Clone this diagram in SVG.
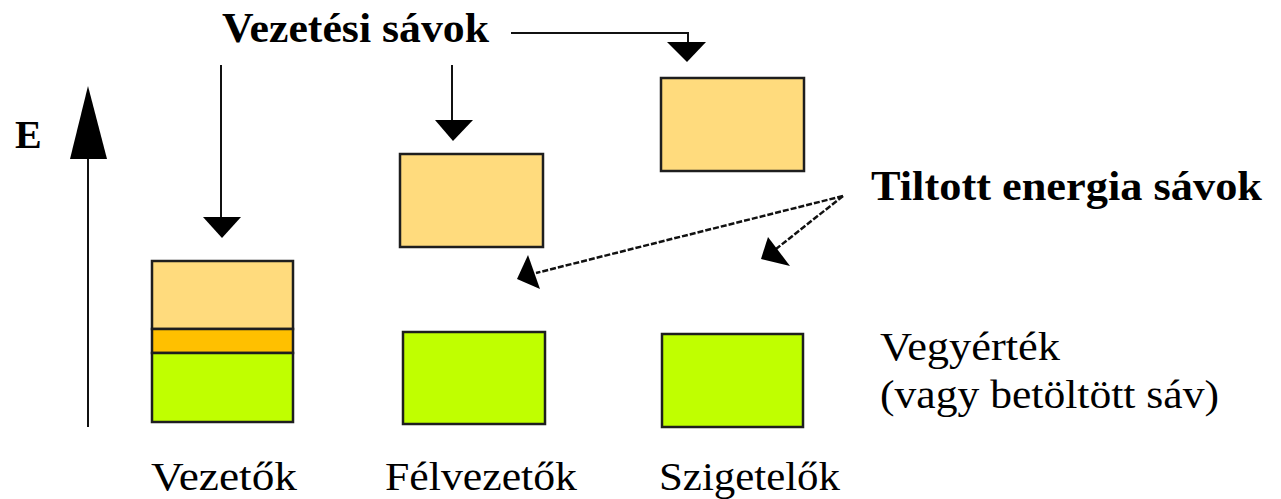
<svg xmlns="http://www.w3.org/2000/svg" width="1281" height="499" viewBox="0 0 1281 499">
<style>
.bx{stroke:#1e1e1e;stroke-width:2.5}
.cb{fill:#FFDB7D}
.ob{fill:#FFC000}
.vb{fill:#C0FF00}
.ln{stroke:#111;stroke-width:2;fill:none}
.ds{stroke:#111;stroke-width:2.5;fill:none;stroke-dasharray:6 2}
.hd{fill:#000}
.b{font-weight:bold;fill:#000}
.n{fill:#000}
</style>
<rect width="1281" height="499" fill="#fff"/>
<g id="axis">
<line class="ln" x1="88" y1="159" x2="88" y2="427"/>
<polygon class="hd" points="88,86 70,159 107,159"/>
<text class="b" font-family="'Liberation Serif', 'DejaVu Serif', serif" x="15" y="148" font-size="40">E</text>
</g>
<g id="conductor">
<rect class="bx cb" x="152" y="261" width="141" height="68"/>
<rect class="bx ob" x="152" y="329" width="141" height="24"/>
<rect class="bx vb" x="152" y="353" width="141" height="69"/>
<text class="n" font-family="'Liberation Serif', 'DejaVu Serif', serif" x="151" y="490" font-size="40" textLength="146" lengthAdjust="spacingAndGlyphs">Vezetők</text>
</g>
<g id="semiconductor">
<rect class="bx cb" x="400" y="154" width="143" height="93"/>
<rect class="bx vb" x="403" y="332" width="142" height="92"/>
<text class="n" font-family="'Liberation Serif', 'DejaVu Serif', serif" x="385" y="490" font-size="40" textLength="192" lengthAdjust="spacingAndGlyphs">Félvezetők</text>
</g>
<g id="insulator">
<rect class="bx cb" x="661" y="78" width="143" height="93"/>
<rect class="bx vb" x="662" y="334" width="141" height="93"/>
<text class="n" font-family="'Liberation Serif', 'DejaVu Serif', serif" x="659" y="490" font-size="40" textLength="181" lengthAdjust="spacingAndGlyphs">Szigetelők</text>
</g>
<g id="label-conduction">
<text class="b" font-family="'Liberation Serif', 'DejaVu Serif', serif" x="222" y="42" font-size="43" textLength="267" lengthAdjust="spacingAndGlyphs">Vezetési sávok</text>
</g>
<g id="label-forbidden">
<text class="b" font-family="'Liberation Serif', 'DejaVu Serif', serif" x="871" y="200" font-size="42" textLength="391" lengthAdjust="spacingAndGlyphs">Tiltott energia sávok</text>
</g>
<g id="label-valence">
<text class="n" font-family="'Liberation Serif', 'DejaVu Serif', serif" x="880" y="360" font-size="40" textLength="180" lengthAdjust="spacingAndGlyphs">Vegyérték</text>
<text class="n" font-family="'Liberation Serif', 'DejaVu Serif', serif" x="880" y="408" font-size="40" textLength="339" lengthAdjust="spacingAndGlyphs">(vagy betöltött sáv)</text>
</g>
<g id="connectors">
<line class="ln" x1="221" y1="65" x2="221" y2="218"/>
<polygon class="hd" points="203,217 241,217 222,238"/>
<line class="ln" x1="452" y1="65" x2="452" y2="121"/>
<polygon class="hd" points="435,120 473,120 453,141"/>
<polyline class="ln" points="511,33 688,33 688,43"/>
<polygon class="hd" points="667,42 706,42 687,62"/>
<line class="ds" x1="843" y1="196" x2="536" y2="273"/>
<polygon class="hd" points="528,255 540,289 517,279"/>
<line class="ds" x1="843" y1="196" x2="776" y2="249"/>
<polygon class="hd" points="768,237 790,266 761,259"/>
</g>
</svg>
